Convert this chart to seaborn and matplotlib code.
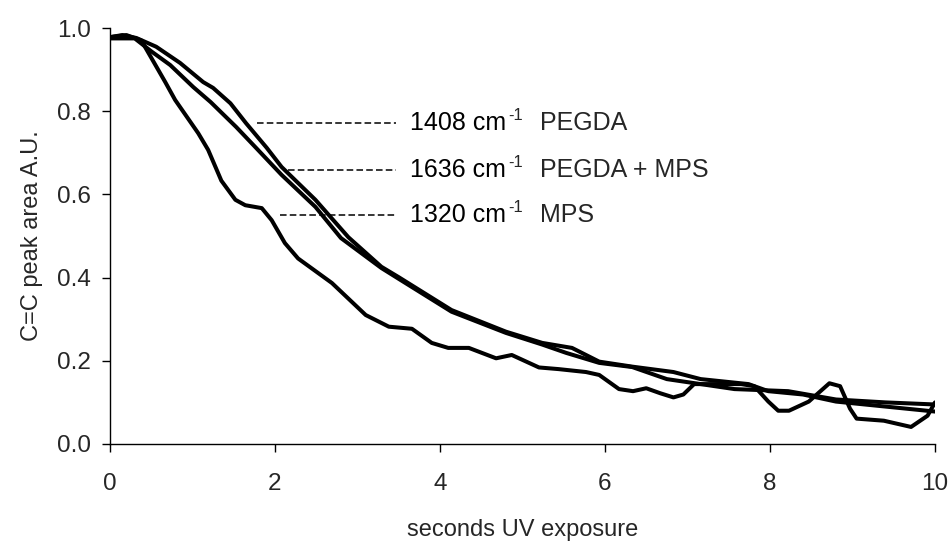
import matplotlib
matplotlib.use("Agg")
import matplotlib.pyplot as plt
import seaborn as sns
import pandas as pd

# ---- data ----
x_pegda = [0, 0.15, 0.32, 0.56, 0.85, 1.13, 1.25, 1.46, 1.65, 1.9, 2.08, 2.49, 2.89, 3.29, 3.5,
           4.14, 4.8, 5.24, 5.6, 5.93, 6.33, 6.83, 7.16, 7.74, 7.98, 8.4, 8.8, 9.4, 10.0]
y_pegda = [0.978, 0.983, 0.976, 0.955, 0.916, 0.87, 0.856, 0.819, 0.771, 0.712, 0.666, 0.587, 0.497,
           0.426, 0.401, 0.322, 0.27, 0.243, 0.231, 0.198, 0.186, 0.173, 0.156, 0.144, 0.127,
           0.119, 0.102, 0.09, 0.078]

x_both = [0, 0.3, 0.5, 0.73, 1.01, 1.22, 1.53, 1.77, 2.08, 2.49, 2.8, 3.29, 3.5, 4.14, 4.8,
          5.24, 5.53, 5.93, 6.33, 6.75, 7.57, 8.22, 8.8, 9.4, 10.0]
y_both = [0.975, 0.975, 0.944, 0.911, 0.858, 0.822, 0.762, 0.712, 0.647, 0.57, 0.495, 0.423, 0.397,
          0.318, 0.267, 0.239, 0.219, 0.195, 0.185, 0.156, 0.132, 0.127, 0.107, 0.1, 0.095]

x_mps = [0, 0.2, 0.38, 0.67, 0.79, 1.07, 1.19, 1.35, 1.52, 1.64, 1.84, 1.96, 2.12, 2.28, 2.69,
         3.1, 3.38, 3.66, 3.9, 4.1, 4.35, 4.68, 4.87, 5.2, 5.44, 5.77, 5.93, 6.17, 6.34, 6.5,
         6.67, 6.83, 6.95, 7.08, 7.65, 7.81, 7.98, 8.1, 8.23, 8.47, 8.72, 8.85, 8.97, 9.05,
         9.38, 9.71, 9.91, 10.0]
y_mps = [0.978, 0.983, 0.97, 0.87, 0.827, 0.747, 0.707, 0.633, 0.587, 0.574, 0.567, 0.538, 0.483,
         0.446, 0.387, 0.31, 0.282, 0.277, 0.243, 0.231, 0.231, 0.206, 0.214, 0.184, 0.18, 0.173,
         0.166, 0.132, 0.127, 0.134, 0.122, 0.112, 0.119, 0.144, 0.144, 0.139, 0.102, 0.08,
         0.08, 0.102, 0.146, 0.139, 0.085, 0.061, 0.056, 0.041, 0.068, 0.1]

label_num = ["1408 cm", "1636 cm", "1320 cm"]
label_sup = "-1"
label_name = ["PEGDA", "PEGDA + MPS", "MPS"]
label_y = [0.772, 0.659, 0.55]
label_x0 = [1.78, 2.16, 2.06]
dash_end = 3.47
text_x = 3.64

x_ticks = [0, 2, 4, 6, 8, 10]
y_ticks = [0.0, 0.2, 0.4, 0.6, 0.8, 1.0]

# ---- style ----
sns.set_theme(style="ticks")
plt.rcParams["font.family"] = ["Liberation Sans", "DejaVu Sans"]

fig = plt.figure(figsize=(9.53, 5.47), dpi=100)
ax = fig.add_axes([0.1154, 0.1883, 0.8657, 0.7605])

frames = [
    pd.DataFrame({"x": x_pegda, "y": y_pegda, "s": "pegda"}),
    pd.DataFrame({"x": x_both, "y": y_both, "s": "both"}),
    pd.DataFrame({"x": x_mps, "y": y_mps, "s": "mps"}),
]
df = pd.concat(frames, ignore_index=True)
sns.lineplot(data=df, x="x", y="y", units="s", estimator=None, sort=False,
             color="black", linewidth=2.9, ax=ax, legend=False)

for num, name, ly, lx in zip(label_num, label_name, label_y, label_x0):
    ax.plot([lx, dash_end], [ly, ly], color="black", linewidth=1.1, linestyle=(0, (4.3, 2.1)))
    t1 = ax.text(text_x, ly, num, fontsize=18, va="center", ha="left", color="black")
    sup = ax.annotate(label_sup, xy=(1, 1), xycoords=t1, xytext=(1.5, 2),
                      textcoords="offset points", fontsize=12, va="top", ha="left")
    ax.annotate(name, xy=(1, 0.5), xycoords=(sup, t1), xytext=(12, 0),
                textcoords="offset points", fontsize=18, va="center", ha="left")

ax.set_xlim(0, 10)
ax.set_ylim(0, 1.0)
ax.set_xticks(x_ticks)
ax.set_yticks(y_ticks)
ax.set_yticklabels([f"{v:.1f}" for v in y_ticks])
ax.tick_params(axis="both", labelsize=17.5, length=6, width=1, color="black", direction="out")
ax.tick_params(axis="x", pad=15)
ax.tick_params(axis="y", pad=8)
ax.set_xlabel("seconds UV exposure", fontsize=17)
ax.set_ylabel("C=C peak area A.U.", fontsize=17, labelpad=10)
ax.xaxis.set_label_coords(0.5, -0.18)
for side in ["top", "right"]:
    ax.spines[side].set_visible(False)
for side in ["left", "bottom"]:
    ax.spines[side].set_color("black")
    ax.spines[side].set_linewidth(1)

fig.savefig("out.png", dpi=100)
